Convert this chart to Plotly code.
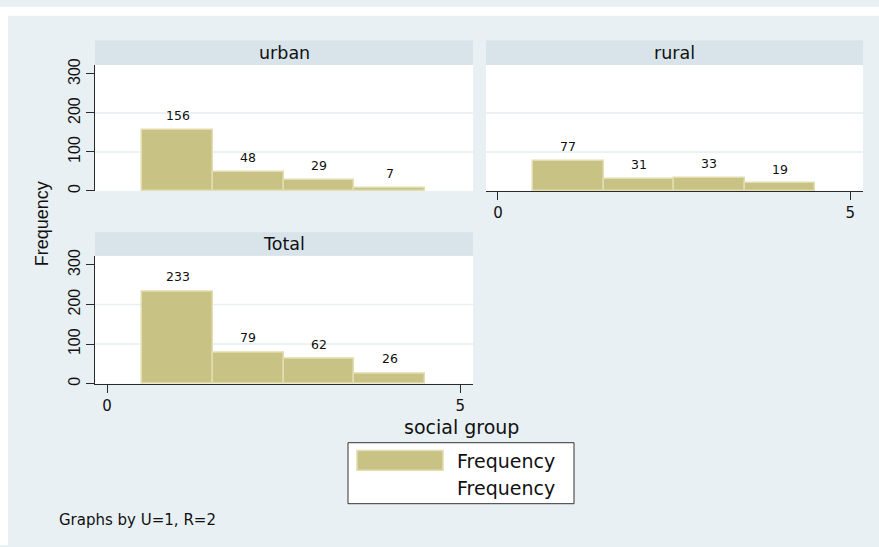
import plotly.graph_objects as go

W, H = 879, 547

# ---- data ----
groups = [1, 2, 3, 4]
urban = [156, 48, 29, 7]
rural = [77, 31, 33, 19]
total = [233, 79, 62, 26]
panel_titles = ["urban", "rural", "Total"]
y_ticks = [0, 100, 200, 300]
x_ticks = [0, 5]
grid_vals = [100, 200]
x_title = "social group"
y_title = "Frequency"
legend_labels = ["Frequency", "Frequency"]
note = "Graphs by U=1, R=2"

FONT = "DejaVu Sans, Liberation Sans, Arial"
FONT_V = "Liberation Sans, Arial, sans-serif"
BG = "#e8f0f3"
STRIP = "#d8e4ea"
BAR = "#c9c285"
BAR_LINE = "#e2ddb0"
AX = "#2a2a2a"
GRID = "#e6eef1"


def px(x):
    return x / W


def py(y):
    return 1 - y / H


# panel geometry (pixels): (x0, x1, plot_top, plot_bottom, strip_top)
panels = [
    (95, 473, 59, 187, 34),
    (486, 863, 59, 187, 34),
    (95, 473, 253, 383, 229),
]
series = [urban, rural, total]

fig = go.Figure()
shapes = []
annotations = []

for i, (vals, (x0, x1, t, b, st)) in enumerate(zip(series, panels)):
    n = "" if i == 0 else str(i + 1)
    xa, ya = "x" + n, "y" + n
    fig.add_trace(go.Bar(
        x=groups, y=vals, width=1,
        marker=dict(color=BAR, line=dict(color=BAR_LINE, width=1.5)),
        xaxis=xa, yaxis=ya, showlegend=False, hoverinfo="x+y",
    ))
    show_x = i != 0
    show_y = i != 1
    fig.update_layout(**{
        "xaxis" + n: dict(
            domain=[px(x0), px(x1)], anchor=ya, range=[-0.17, 5.18],
            tickvals=x_ticks, showgrid=False, zeroline=False,
            showline=show_x, linecolor=AX, linewidth=1.2,
            ticks="outside" if show_x else "", ticklen=8, tickcolor=AX, tickwidth=1.2,
            showticklabels=show_x, tickfont=dict(family=FONT, size=15, color="#111"),
            fixedrange=True,
        ),
        "yaxis" + n: dict(
            domain=[py(b), py(t)], anchor=xa, range=[0, 323],
            tickvals=y_ticks, showgrid=False, zeroline=False,
            showline=show_y, linecolor=AX, linewidth=1.2,
            ticks="outside" if show_y else "", ticklen=8, tickcolor=AX, tickwidth=1.2,
            showticklabels=show_y, tickangle=-90,
            tickfont=dict(family=FONT_V, size=16, color="#111"),
            fixedrange=True,
        ),
    })
    # grid lines
    for gv in grid_vals:
        shapes.append(dict(type="line", xref=xa + " domain", yref=ya,
                           x0=0, x1=1, y0=gv, y1=gv,
                           line=dict(color=GRID, width=1.5), layer="below"))
    # strip header
    shapes.append(dict(type="rect", xref="paper", yref="paper",
                       x0=px(x0), x1=px(x1), y0=py(t), y1=py(st),
                       fillcolor=STRIP, line=dict(width=0), layer="below"))
    annotations.append(dict(text=panel_titles[i], xref="paper", yref="paper",
                            x=(px(x0) + px(x1)) / 2, y=(py(t) + py(st)) / 2,
                            xanchor="center", yanchor="middle", showarrow=False,
                            font=dict(family=FONT, size=17.5, color="#111")))
    # bar value labels
    for g, v in zip(groups, vals):
        annotations.append(dict(text=str(v), xref=xa, yref=ya, x=g, y=v,
                                xanchor="center", yanchor="bottom", yshift=5,
                                showarrow=False,
                                font=dict(family=FONT, size=12.5, color="#111")))

# white edges of the original image
shapes.append(dict(type="rect", xref="paper", yref="paper", x0=0, x1=1,
                   y0=py(9), y1=1, fillcolor="white", line=dict(width=0)))
shapes.append(dict(type="rect", xref="paper", yref="paper", x0=0, x1=px(8),
                   y0=0, y1=1, fillcolor="white", line=dict(width=0)))

# legend (drawn manually)
shapes.append(dict(type="rect", xref="paper", yref="paper",
                   x0=px(348), x1=px(574), y0=py(505), y1=py(443),
                   fillcolor="white", line=dict(color="#333", width=1)))
shapes.append(dict(type="rect", xref="paper", yref="paper",
                   x0=px(357), x1=px(443), y0=py(471), y1=py(451),
                   fillcolor=BAR, line=dict(color=BAR_LINE, width=1.5)))
for lbl, yc in zip(legend_labels, [462, 489]):
    annotations.append(dict(text=lbl, xref="paper", yref="paper",
                            x=px(455), y=py(yc), xanchor="left", yanchor="middle",
                            showarrow=False,
                            font=dict(family=FONT, size=19, color="#111")))

# titles / note
annotations.append(dict(text=x_title, xref="paper", yref="paper",
                        x=px(461), y=py(427), xanchor="center", yanchor="middle",
                        showarrow=False, font=dict(family=FONT, size=19, color="#111")))
annotations.append(dict(text=y_title, xref="paper", yref="paper",
                        x=px(42), y=py(221), xanchor="center", yanchor="middle",
                        textangle=-90, showarrow=False,
                        font=dict(family=FONT_V, size=18, color="#111")))
annotations.append(dict(text=note, xref="paper", yref="paper",
                        x=px(57), y=py(522), xanchor="left", yanchor="middle",
                        showarrow=False, font=dict(family=FONT, size=15, color="#111")))

fig.update_layout(
    width=W, height=H, margin=dict(l=0, r=0, t=0, b=0),
    paper_bgcolor=BG, plot_bgcolor="white",
    shapes=shapes, annotations=annotations,
    bargap=0, showlegend=False,
    font=dict(family=FONT, color="#111"),
)

fig.write_html("out.html")
